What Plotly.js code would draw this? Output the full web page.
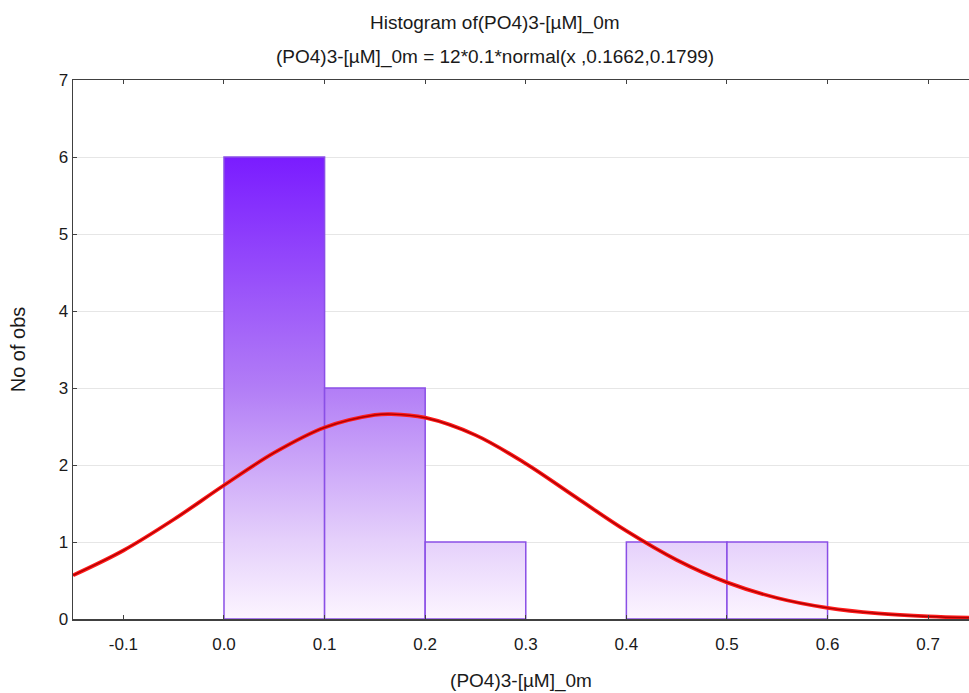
<!DOCTYPE html>
<html>
<head>
<meta charset="utf-8">
<script src="https://cdn.plot.ly/plotly-3.0.1.min.js"></script>
<style>
  html, body { margin: 0; padding: 0; background: #ffffff; }
  #chart { width: 969px; height: 693px; }
</style>
</head>
<body>
<div id="chart"></div>
<script>
// Histogram bins of (PO4)3- concentration at 0 m
const binStart = [0.0, 0.1, 0.2, 0.3, 0.4, 0.5];
const binEnd   = [0.1, 0.2, 0.3, 0.4, 0.5, 0.6];
const counts   = [6, 3, 1, 0, 1, 1];

// Fitted normal curve, 12*0.1*normal(x, 0.1662, 0.1799)
const curveX = [-0.15, -0.1, -0.05, 0.0, 0.05, 0.1, 0.15, 0.1662, 0.2, 0.25, 0.3, 0.35,
                0.4, 0.45, 0.5, 0.55, 0.6, 0.65, 0.7, 0.75];
const curveY = [0.568, 0.890, 1.292, 1.737, 2.160, 2.487, 2.650, 2.661, 2.614, 2.388, 2.018, 1.579,
                1.144, 0.767, 0.476, 0.273, 0.145, 0.072, 0.033, 0.014];

const xTicks = [-0.1, 0.0, 0.1, 0.2, 0.3, 0.4, 0.5, 0.6, 0.7];
const xTickText = ['-0.1', '0.0', '0.1', '0.2', '0.3', '0.4', '0.5', '0.6', '0.7'];
const yTicks = [0, 1, 2, 3, 4, 5, 6, 7];

const titleMain = 'Histogram of(PO4)3-[µM]_0m';
const titleSub = '(PO4)3-[µM]_0m = 12*0.1*normal(x ,0.1662,0.1799)';
const xTitle = '(PO4)3-[µM]_0m';
const yTitle = 'No of obs';

const font = 'Liberation Sans, Arial, sans-serif';
const ink = '#1a1a1a';

// Vertical violet gradient shared by all bars (absolute in y)
const barGradient = {
  type: 'vertical',
  start: 0,
  stop: 6,
  colorscale: [
    [0.0, '#fcf5ff'],
    [0.17, '#e5d0fb'],
    [0.5, '#b27df6'],
    [1.0, '#7a1cff']
  ]
};

const traces = [];
counts.forEach((c, i) => {
  if (c <= 0) return;
  const x0 = binStart[i], x1 = binEnd[i];
  traces.push({
    type: 'scatter',
    mode: 'lines',
    x: [x0, x0, x1, x1, x0],
    y: [0, c, c, 0, 0],
    fill: 'toself',
    fillgradient: barGradient,
    line: { color: '#8a4fe6', width: 1.5 },
    hoverinfo: 'skip',
    showlegend: false
  });
});

// Normal fit: bright red outer stroke with darker core
traces.push({
  type: 'scatter', mode: 'lines',
  x: curveX, y: curveY,
  line: { color: '#ff1a1a', width: 3.8, shape: 'spline', smoothing: 1 },
  hoverinfo: 'skip', showlegend: false
});
traces.push({
  type: 'scatter', mode: 'lines',
  x: curveX, y: curveY,
  line: { color: '#b00000', width: 1.4, shape: 'spline', smoothing: 1 },
  hoverinfo: 'skip', showlegend: false
});

const layout = {
  width: 969,
  height: 693,
  margin: { l: 73, r: 0, t: 80, b: 74, pad: 0 },
  paper_bgcolor: '#ffffff',
  plot_bgcolor: '#ffffff',
  font: { family: font, size: 17, color: ink },
  showlegend: false,
  xaxis: {
    range: [-0.1501, 0.7406],
    tickvals: xTicks,
    ticktext: xTickText,
    ticks: 'inside',
    ticklen: 4,
    tickcolor: '#404040',
    ticklabelstandoff: 9,
    showline: true,
    linecolor: '#404040',
    linewidth: 1.5,
    mirror: 'ticks',
    showgrid: false,
    zeroline: false,
    tickfont: { family: font, size: 17, color: ink },
    title: { text: xTitle, font: { family: font, size: 19, color: ink }, standoff: 21 }
  },
  yaxis: {
    range: [0, 7],
    tickvals: yTicks,
    ticks: 'inside',
    ticklen: 4,
    tickcolor: '#404040',
    showline: true,
    linecolor: '#404040',
    linewidth: 1.5,
    mirror: true,
    showgrid: true,
    gridcolor: '#e6e6e6',
    gridwidth: 1,
    zeroline: false,
    tickfont: { family: font, size: 17, color: ink },
    title: { text: yTitle, font: { family: font, size: 20, color: ink }, standoff: 27 }
  },
  annotations: [
    {
      text: titleMain, xref: 'paper', yref: 'paper',
      x: 0.471, y: 1.106, xanchor: 'center', yanchor: 'middle',
      showarrow: false, font: { family: font, size: 19, color: ink }
    },
    {
      text: titleSub, xref: 'paper', yref: 'paper',
      x: 0.471, y: 1.043, xanchor: 'center', yanchor: 'middle',
      showarrow: false, font: { family: font, size: 19, color: ink }
    }
  ]
};

Plotly.newPlot('chart', traces, layout, { displayModeBar: false, staticPlot: true });
</script>
</body>
</html>
